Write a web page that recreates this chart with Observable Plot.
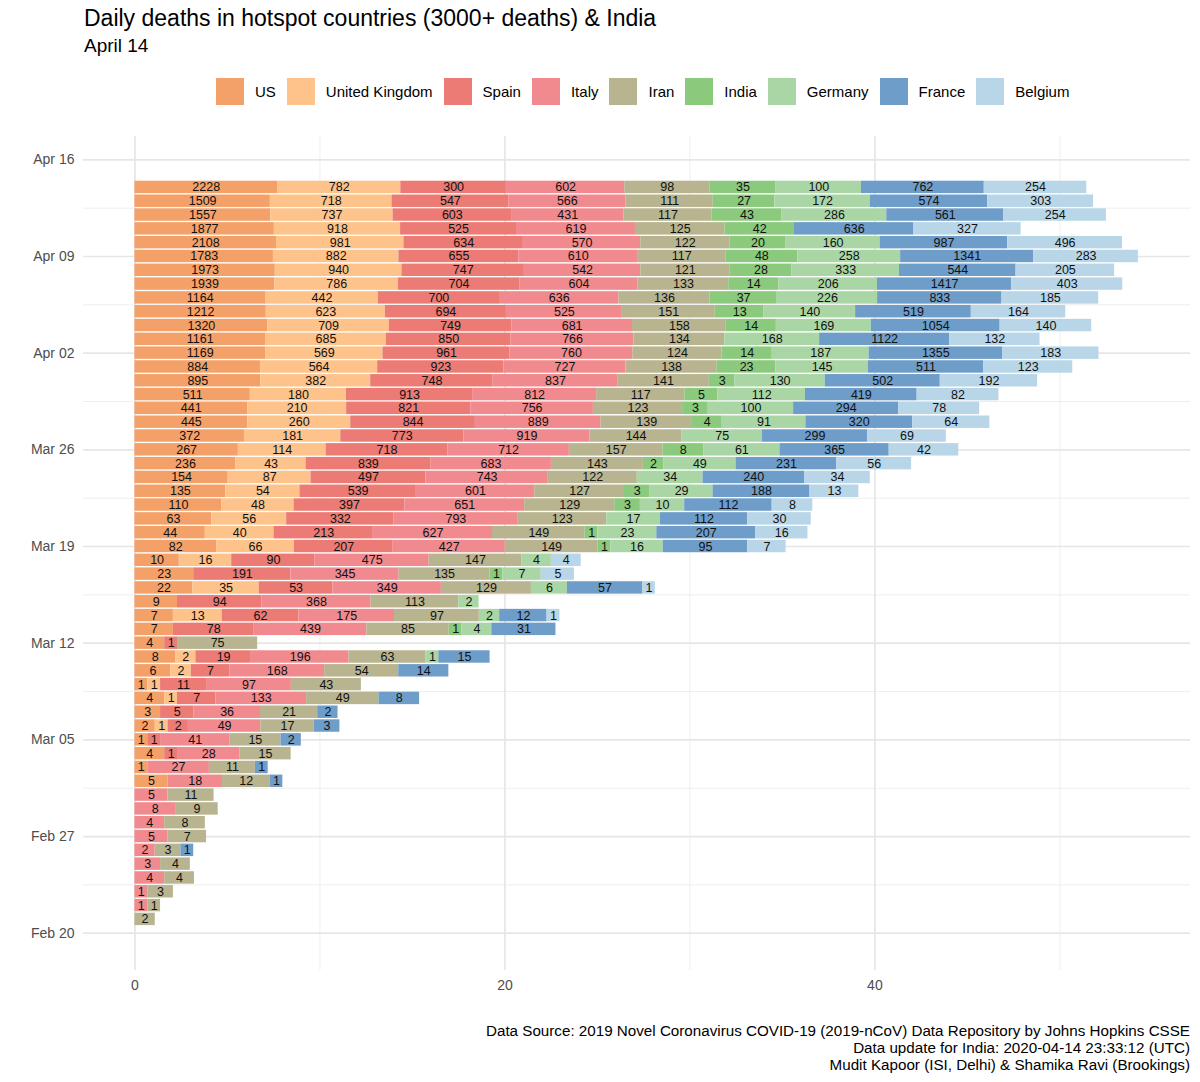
<!DOCTYPE html>
<html>
<head>
<meta charset="utf-8">
<script src="https://cdn.jsdelivr.net/npm/d3@7"></script>
<script src="https://cdn.jsdelivr.net/npm/@observablehq/plot@0.6"></script>
<style>
  html, body { margin: 0; padding: 0; background: #fff; }
  #page { position: relative; width: 1200px; height: 1082px; font-family: "Liberation Sans", Arial, Helvetica, sans-serif; color: #000; overflow: hidden; }
  #title { position: absolute; left: 84px; top: 5px; font-size: 23px; line-height: 26px; white-space: nowrap; }
  #subtitle { position: absolute; left: 84px; top: 35px; font-size: 19px; line-height: 22px; white-space: nowrap; }
  #legend { position: absolute; left: 216px; top: 78px; height: 27px; display: flex; align-items: center; font-size: 15px; white-space: nowrap; }
  #legend .sw { width: 28px; height: 27px; margin-right: 11px; }
  #legend .lb { margin-right: 11px; color: #000; }
  #chart { position: absolute; left: 0; top: 110px; }
  #caption { position: absolute; right: 10px; top: 1022px; font-size: 15.2px; line-height: 17px; text-align: right; white-space: nowrap; }
</style>
</head>
<body>
<div id="page">
  <div id="title">Daily deaths in hotspot countries (3000+ deaths) &amp; India</div>
  <div id="subtitle">April 14</div>
  <div id="legend"></div>
  <div id="chart"></div>
  <div id="caption">Data Source: 2019 Novel Coronavirus COVID-19 (2019-nCoV) Data Repository by Johns Hopkins CSSE<br>Data update for India: 2020-04-14 23:33:12 (UTC)<br>Mudit Kapoor (ISI, Delhi) &amp; Shamika Ravi (Brookings)</div>
</div>
<script>
// Categories and colours
const countries = ["US", "United Kingdom", "Spain", "Italy", "Iran", "India", "Germany", "France", "Belgium"];
const colors = ["#F4A169", "#FDC38A", "#EB7B74", "#F18A8E", "#B8B48F", "#8BC97D", "#AAD6A6", "#6E9DC9", "#B8D6E8"];

// Daily deaths, newest first: Apr 14 back to Feb 21 (54 days)
const us      = [2228,1509,1557,1877,2108,1783,1973,1939,1164,1212,1320,1161,1169,884,895,511,441,445,372,267,236,154,135,110,63,44,82,10,23,22,9,7,7,4,8,6,1,4,3,2,1,4,1,5,0,0,0,0,0,0,0,0,0,0];
const uk      = [782,718,737,918,981,882,940,786,442,623,709,685,569,564,382,180,210,260,181,114,43,87,54,48,56,40,66,16,0,35,0,13,0,0,2,2,1,1,0,1,0,0,0,0,0,0,0,0,0,0,0,0,0,0];
const spain   = [300,547,603,525,634,655,747,704,700,694,749,850,961,923,748,913,821,844,773,718,839,497,539,397,332,213,207,90,191,53,94,62,78,1,19,7,11,7,5,2,1,1,0,0,0,0,0,0,0,0,0,0,0,0];
const italy   = [602,566,431,619,570,610,542,604,636,525,681,766,760,727,837,812,756,889,919,712,683,743,601,651,793,627,427,475,345,349,368,175,439,0,196,168,97,133,36,49,41,28,27,18,5,8,4,5,2,3,4,1,1,0];
const iran    = [98,111,117,125,122,117,121,133,136,151,158,134,124,138,141,117,123,139,144,157,143,122,127,129,123,149,149,147,135,129,113,97,85,75,63,54,43,49,21,17,15,15,11,12,11,9,8,7,3,4,4,3,1,2];
const india   = [35,27,43,42,20,48,28,14,37,13,14,0,14,23,3,5,3,4,0,8,2,0,3,3,0,1,1,0,1,0,0,0,1,0,0,0,0,0,0,0,0,0,0,0,0,0,0,0,0,0,0,0,0,0];
const germany = [100,172,286,0,160,258,333,206,226,140,169,168,187,145,130,112,100,91,75,61,49,34,29,10,17,23,16,4,7,6,2,2,4,0,1,0,0,0,0,0,0,0,0,0,0,0,0,0,0,0,0,0,0,0];
const france  = [762,574,561,636,987,1341,544,1417,833,519,1054,1122,1355,511,502,419,294,320,299,365,231,240,188,112,112,207,95,0,0,57,0,12,31,0,15,14,0,8,2,3,2,0,1,1,0,0,0,0,1,0,0,0,0,0];
const belgium = [254,303,254,327,496,283,205,403,185,164,140,132,183,123,192,82,78,64,69,42,56,34,13,8,30,16,7,4,5,1,0,1,0,0,0,0,0,0,0,0,0,0,0,0,0,0,0,0,0,0,0,0,0,0];

// Axis tick dates (weekly) and x ticks
const yTickLabels = ["2020-02-20","2020-02-27","2020-03-05","2020-03-12","2020-03-19","2020-03-26","2020-04-02","2020-04-09","2020-04-16"];
const xMajor = [0, 20, 40];
const xMinor = [10, 30, 50];

const series = [us, uk, spain, italy, iran, india, germany, france, belgium];
const lastDay = new Date(Date.UTC(2020, 3, 14));
const DAY = 864e5;
const rows = [];
countries.forEach((c, k) => {
  series[k].forEach((v, i) => {
    if (v > 0) rows.push({date: new Date(+lastDay - i * DAY), country: c, deaths: v});
  });
});

const yMajor = yTickLabels.map(s => new Date(s + "T00:00:00Z"));
const yMinor = yMajor.slice(1).map((d, i) => new Date((+d + +yMajor[i]) / 2));
const fmt = d3.utcFormat("%b %d");

const chart = Plot.plot({
  width: 1200,
  height: 900,
  marginLeft: 83,
  marginRight: 10,
  marginTop: 26,
  marginBottom: 40,
  style: {fontFamily: "'Liberation Sans', Arial, Helvetica, sans-serif", fontSize: "14px", background: "transparent", overflow: "visible"},
  x: {domain: [-2.78, 57.06], axis: null},
  y: {type: "utc", domain: [new Date(+yMajor[0] - 2.70 * DAY), new Date(+yMajor[yMajor.length - 1] + 1.687 * DAY)], axis: null},
  color: {domain: countries, range: colors},
  marks: [
    Plot.ruleY(yMinor, {stroke: "#ececec", strokeWidth: 0.9}),
    Plot.ruleX(xMinor, {stroke: "#ececec", strokeWidth: 0.9}),
    Plot.ruleY(yMajor, {stroke: "#e6e6e6", strokeWidth: 1.7}),
    Plot.ruleX(xMajor, {stroke: "#e6e6e6", strokeWidth: 1.7}),
    Plot.rect(rows, Plot.stackX({
      x: d => Math.log1p(d.deaths),
      y1: d => new Date(+d.date - 0.45 * DAY),
      y2: d => new Date(+d.date + 0.45 * DAY),
      z: "country",
      fill: "country",
      order: countries
    })),
    Plot.text(rows, Plot.stackX({
      x: d => Math.log1p(d.deaths),
      y: "date",
      z: "country",
      order: countries,
      text: d => String(d.deaths),
      fill: "#111",
      fontSize: 12.5
    })),
    Plot.text(xMajor, {x: d => d, frameAnchor: "bottom", dy: 15, text: d => String(d), fill: "#4d4d4d", fontSize: 14, lineAnchor: "middle"}),
    Plot.text(yMajor, {y: d => d, frameAnchor: "left", dx: -9, textAnchor: "end", text: d => fmt(d), fill: "#4d4d4d", fontSize: 14})
  ]
});
document.getElementById("chart").appendChild(chart);

// Legend
const legend = document.getElementById("legend");
countries.forEach((c, i) => {
  const sw = document.createElement("div");
  sw.className = "sw";
  sw.style.background = colors[i];
  const lb = document.createElement("div");
  lb.className = "lb";
  lb.textContent = c;
  legend.appendChild(sw);
  legend.appendChild(lb);
});
</script>
</body>
</html>
